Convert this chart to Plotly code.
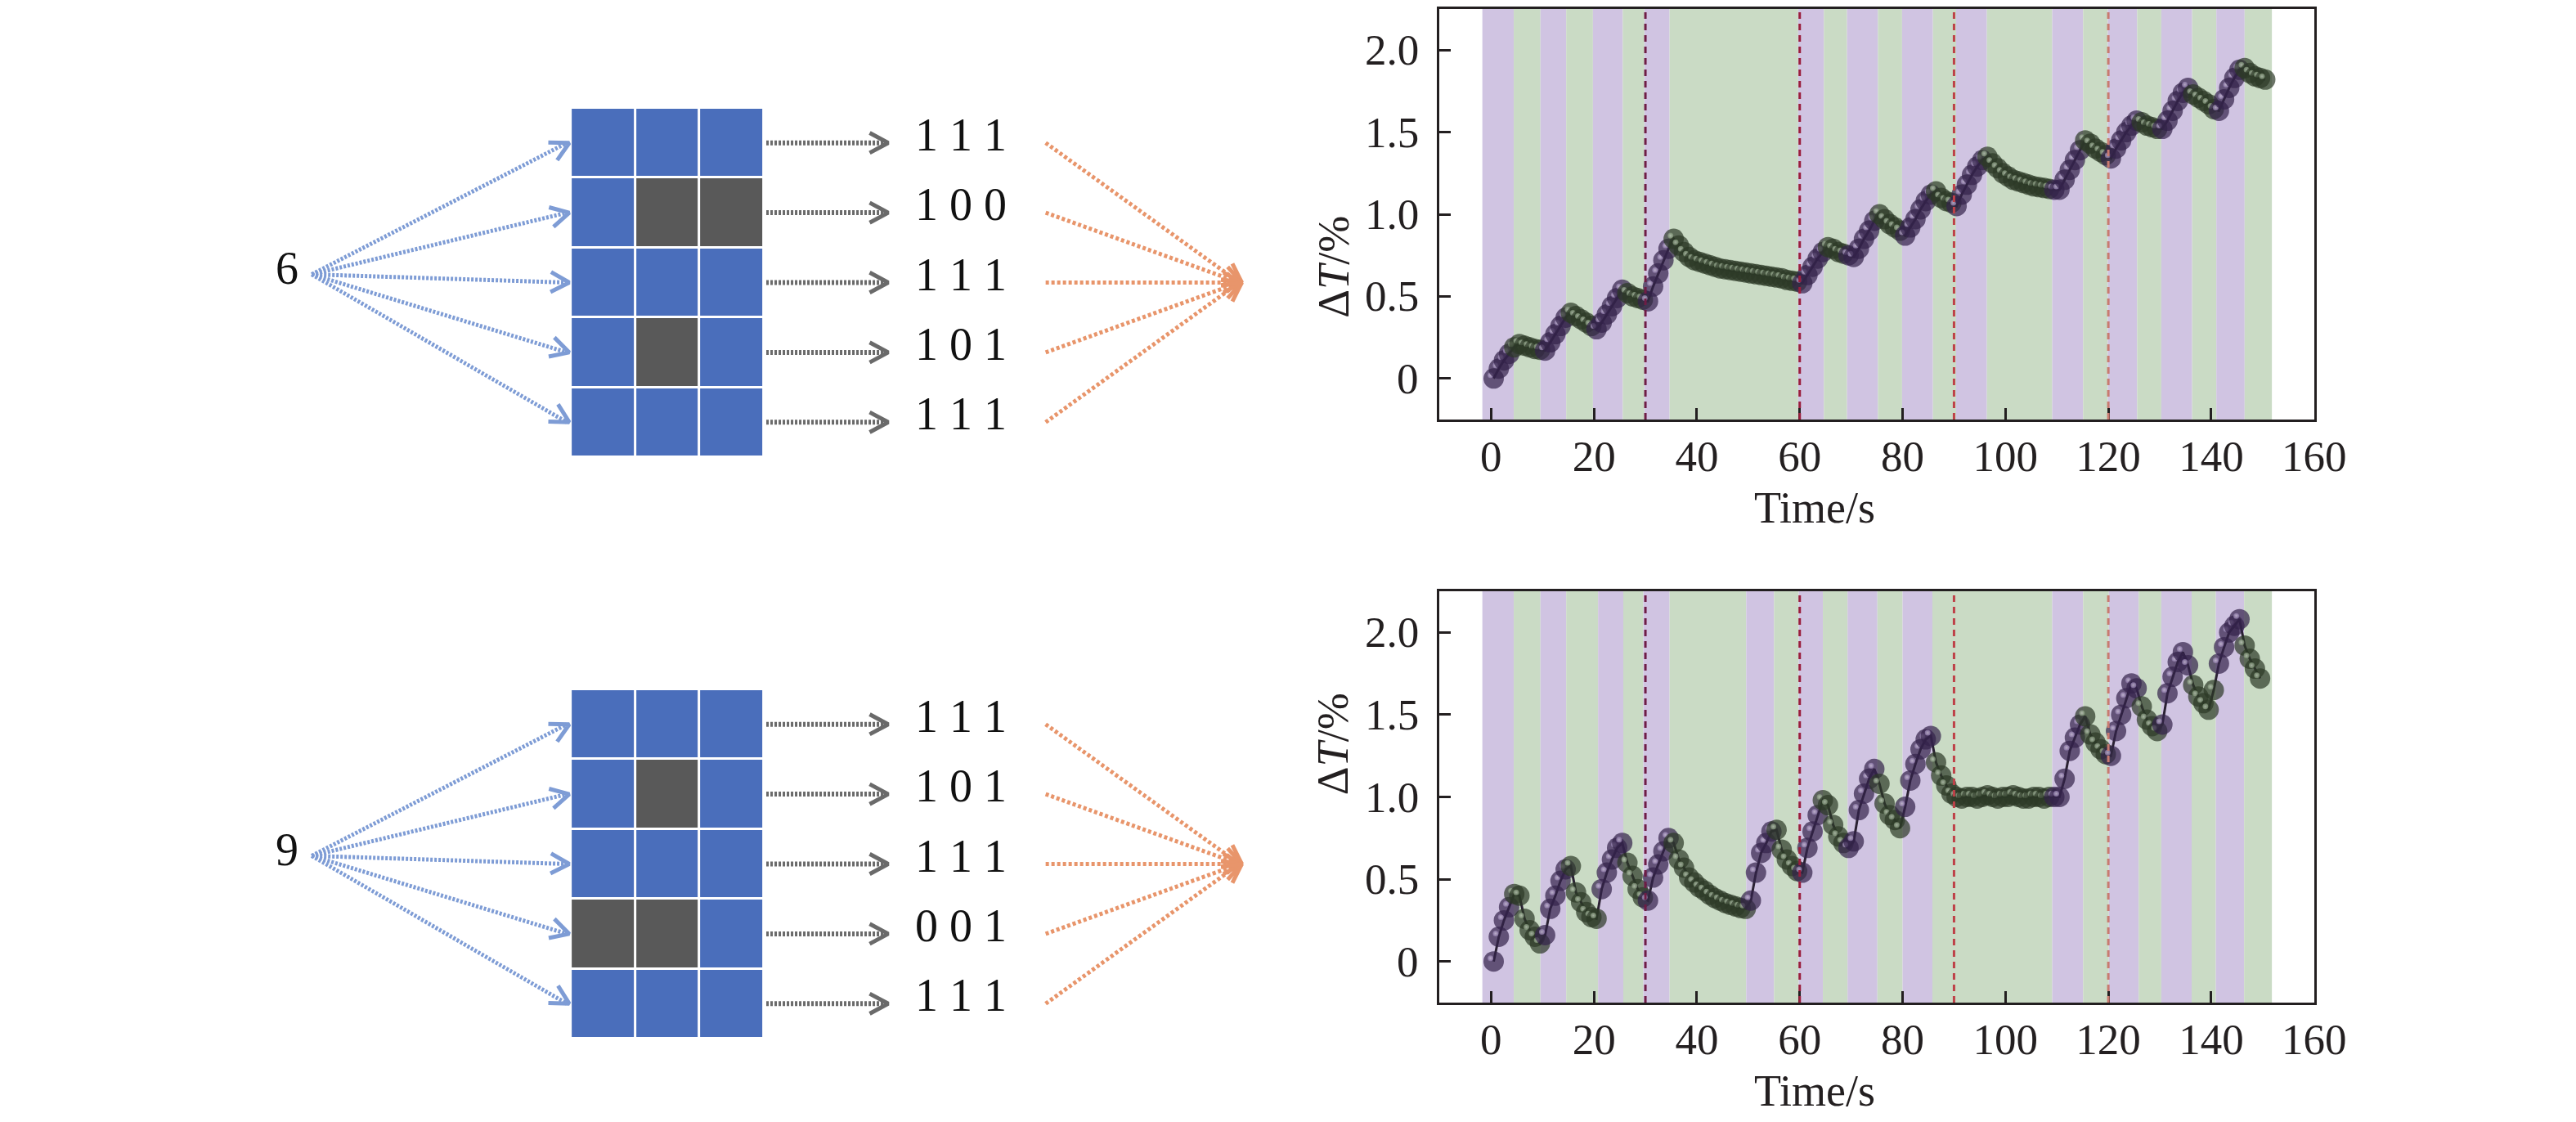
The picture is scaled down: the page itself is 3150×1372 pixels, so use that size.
import numpy as np
import plotly.graph_objects as go

# %% digits shown as 3x5 grids, one row of bits per line
digit_top = "6"
rows_top = ["111", "100", "111", "101", "111"]
digit_bot = "9"
rows_bot = ["111", "101", "111", "001", "111"]

# light on / light off stripes (s), alternating, first one is "on"
edges_top = [-1.7, 4.4, 9.6, 14.6, 19.8, 25.6, 29.8, 34.7, 59.7, 64.7, 69.2, 75.2,
             79.9, 85.9, 90.4, 96.4, 109.1, 115.1, 119.9, 125.6, 130.3, 136.3,
             141.0, 146.5, 151.8]
edges_bot = [-1.7, 4.4, 9.6, 14.6, 20.8, 25.7, 29.6, 34.7, 49.6, 55.0, 59.8, 64.5,
             69.3, 75.1, 80.0, 85.8, 109.1, 115.1, 120.1, 125.9, 130.3, 136.2,
             140.9, 146.4, 151.8]

# dT (%) one sample per second
dT_top = [0.00, 0.06, 0.11, 0.15, 0.19, 0.21, 0.20, 0.19, 0.18, 0.175,
          0.17, 0.22, 0.27, 0.32, 0.37, 0.40, 0.38, 0.36, 0.34, 0.32,
          0.30, 0.34, 0.39, 0.44, 0.49, 0.54, 0.52, 0.50, 0.49, 0.48,
          0.47, 0.56, 0.64, 0.72, 0.79, 0.85, 0.81, 0.77, 0.74, 0.72,
          0.71, 0.70, 0.69, 0.68, 0.67, 0.665, 0.66, 0.655, 0.65, 0.645,
          0.64, 0.635, 0.63, 0.625, 0.62, 0.615, 0.61, 0.60, 0.595, 0.59,
          0.58, 0.63, 0.68, 0.73, 0.77, 0.80, 0.79, 0.77, 0.76, 0.75,
          0.74, 0.79, 0.85, 0.90, 0.96, 1.00, 0.97, 0.94, 0.92, 0.90,
          0.87, 0.92, 0.97, 1.03, 1.08, 1.12, 1.14, 1.10, 1.08, 1.07,
          1.05, 1.12, 1.18, 1.24, 1.29, 1.33, 1.35, 1.31, 1.28, 1.25,
          1.23, 1.21, 1.20, 1.19, 1.18, 1.17, 1.165, 1.16, 1.155, 1.15,
          1.15, 1.21, 1.27, 1.33, 1.39, 1.45, 1.43, 1.40, 1.38, 1.36,
          1.34, 1.40, 1.45, 1.50, 1.54, 1.57, 1.56, 1.54, 1.53, 1.52,
          1.52, 1.57, 1.63, 1.69, 1.74, 1.77, 1.73, 1.71, 1.69, 1.67,
          1.64, 1.63, 1.70, 1.77, 1.83, 1.88, 1.89, 1.86, 1.84, 1.83,
          1.82]
dT_bot = [0.00, 0.15, 0.25, 0.33, 0.41, 0.40, 0.26, 0.19, 0.15, 0.11,
          0.16, 0.32, 0.40, 0.49, 0.56, 0.58, 0.42, 0.36, 0.30, 0.27,
          0.26, 0.44, 0.54, 0.62, 0.69, 0.72, 0.60, 0.52, 0.44, 0.39,
          0.37, 0.51, 0.59, 0.67, 0.75, 0.72, 0.62, 0.57, 0.51, 0.48,
          0.45, 0.43, 0.405, 0.385, 0.37, 0.355, 0.345, 0.335, 0.325, 0.32,
          0.37, 0.54, 0.66, 0.72, 0.79, 0.80, 0.68, 0.62, 0.58, 0.55,
          0.54, 0.69, 0.79, 0.89, 0.98, 0.95, 0.83, 0.76, 0.72, 0.69,
          0.73, 0.92, 1.02, 1.11, 1.17, 1.08, 0.96, 0.89, 0.86, 0.81,
          0.94, 1.10, 1.20, 1.29, 1.35, 1.37, 1.21, 1.13, 1.07, 1.02,
          1.00, 0.99, 1.00, 1.00, 0.99, 1.00, 1.01, 1.00, 0.99, 1.00,
          1.00, 1.01, 1.00, 0.99, 0.99, 1.00, 1.00, 0.99, 1.00, 1.00,
          1.00, 1.11, 1.28, 1.36, 1.44, 1.49, 1.38, 1.33, 1.29, 1.26,
          1.25, 1.40, 1.50, 1.60, 1.69, 1.66, 1.55, 1.47, 1.43, 1.40,
          1.44, 1.63, 1.73, 1.82, 1.88, 1.80, 1.68, 1.61, 1.57, 1.53,
          1.65, 1.81, 1.91, 2.00, 2.04, 2.08, 1.92, 1.84, 1.78, 1.72]

t_top = [i + 0.5 for i in range(len(dT_top))]
t_bot = [i + 0.5 for i in range(len(dT_bot))]

x_ticks = [0, 20, 40, 60, 80, 100, 120, 140, 160]
y_ticks = [0, 0.5, 1.0, 1.5, 2.0]
y_ticktext = ["0", "0.5", "1.0", "1.5", "2.0"]
mark_times = [30, 60, 90, 120]
mark_colors = ["#6E1D45", "#9A1E3C", "#BE4148", "#C97A70"]

FONT = "Liberation Serif"
W, H = 3150, 1372
ON_BG, OFF_BG = "#D0C4E2", "#CADBC5"


def is_on(t, edges):
    for i in range(len(edges) - 1):
        if edges[i] <= t < edges[i + 1]:
            return i % 2 == 0
    return False


def spheres(t, v, edges, xa, ya):
    # body + small highlight per sample, interleaved so later balls cover earlier highlights
    dx, dy = -4 / 6.37, 4 / 201
    xs, ys, sz, col, gcol, gtyp = [], [], [], [], [], []
    for ti, vi in zip(t, v):
        on = is_on(ti, edges)
        xs += [ti, ti + dx]
        ys += [vi, vi + dy]
        sz += [25, 7]
        col += ["#33224A" if on else "#2C3926", "#9580B2" if on else "#84997B"]
        gcol += ["#33224A" if on else "#2C3926", "#E2D8EE" if on else "#D3DFCD"]
        gtyp += ["none", "radial"]
    line = go.Scatter(x=t, y=v, mode="lines", line=dict(color="#2B2233", width=3),
                      xaxis=xa, yaxis=ya, showlegend=False, hoverinfo="skip")
    balls = go.Scatter(x=xs, y=ys, mode="markers", xaxis=xa, yaxis=ya, showlegend=False,
                       marker=dict(size=sz, color=col, line=dict(width=0),
                                   gradient=dict(type=gtyp, color=gcol)))
    return [line, balls]


def chevron(x0, y0, x1, y1, length=26, ang=28):
    u = np.array([x0 - x1, y0 - y1], dtype=float)
    u /= np.hypot(*u)
    out_x, out_y = [], []
    for s in (1, -1):
        a = np.radians(ang) * s
        r = np.array([u[0] * np.cos(a) - u[1] * np.sin(a), u[0] * np.sin(a) + u[1] * np.cos(a)])
        out_x.append(x1 + length * r[0])
        out_y.append(y1 + length * r[1])
    return [out_x[0], x1, out_x[1], None], [out_y[0], y1, out_y[1], None]


fig = go.Figure()
shapes, annos = [], []

# %% left: digit -> grid -> bit rows
CELL_W, CELL_H = 79.7, 85.4
GRID_X0 = 699


def digit_panel(digit, rows, grid_y0):
    z = [[int(b) for b in r] for r in rows]
    centers = [grid_y0 + CELL_H * (i + 0.5) for i in range(len(rows))]
    mid = grid_y0 + CELL_H * len(rows) / 2
    fig.add_trace(go.Heatmap(z=z, x0=GRID_X0 + CELL_W / 2, dx=CELL_W,
                             y0=grid_y0 + CELL_H / 2, dy=CELL_H, xgap=3, ygap=3,
                             colorscale=[[0, "#595959"], [1, "#4A6EBB"]], zmin=0, zmax=1,
                             showscale=False, xaxis="x3", yaxis="y3", hoverinfo="skip"))
    groups = [
        ("#7E9CD5", [(378, mid - 10, 697, c) for c in centers], "3px,2px", 5),
        ("#6A6A6A", [(941, c, 1092, c) for c in centers], "3px,2px", 6),
        ("#E8956B", [(1287, c, 1530, mid) for c in centers], "4px,3px", 5),
    ]
    for color, segs, dash, wd in groups:
        lx, ly, hx, hy = [], [], [], []
        for x0, y0, x1, y1 in segs:
            lx += [x0, x1 - 3, None]
            ly += [y0, y1, None]
            cx, cy = chevron(x0, y0, x1, y1)
            hx += cx
            hy += cy
        fig.add_trace(go.Scatter(x=lx, y=ly, mode="lines", xaxis="x3", yaxis="y3",
                                 line=dict(color=color, width=wd, dash=dash),
                                 showlegend=False, hoverinfo="skip"))
        fig.add_trace(go.Scatter(x=hx, y=hy, mode="lines", xaxis="x3", yaxis="y3",
                                 line=dict(color=color, width=5),
                                 showlegend=False, hoverinfo="skip"))
    annos.append(dict(x=347, y=mid - 18, xref="x3", yref="y3", text=digit, showarrow=False,
                      font=dict(family=FONT, size=56, color="#111111")))
    for r, c in zip(rows, centers):
        annos.append(dict(x=1182, y=c - 10, xref="x3", yref="y3", text=" ".join(r),
                          showarrow=False, font=dict(family=FONT, size=56, color="#111111")))


digit_panel(digit_top, rows_top, 124)
digit_panel(digit_bot, rows_bot, 835)

# %% right: dT curves
dom_x = [1775 / W, 2858 / W]
dom_top = [1 - 505 / H, 1 - 3 / H]
dom_bot = [1 - 1218 / H, 1 - 715 / H]
plot_w = dom_x[1] * W - dom_x[0] * W

for xa, ya, t, v, edges in [("x", "y", t_top, dT_top, edges_top),
                            ("x2", "y2", t_bot, dT_bot, edges_bot)]:
    for i in range(len(edges) - 1):
        shapes.append(dict(type="rect", xref=xa, yref=ya + " domain", x0=edges[i], x1=edges[i + 1],
                           y0=0, y1=1, fillcolor=ON_BG if i % 2 == 0 else OFF_BG,
                           line=dict(width=0), layer="below"))
    for mt, mc in zip(mark_times, mark_colors):
        shapes.append(dict(type="line", xref=xa, yref=ya + " domain", x0=mt, x1=mt, y0=0, y1=1,
                           line=dict(color=mc, width=3, dash="8px,6px"), layer="above"))
    for tr in spheres(t, v, edges, xa, ya):
        fig.add_trace(tr)
    # y tick labels sit closer to the axis than plotly puts them
    for yv, yt in zip(y_ticks, y_ticktext):
        annos.append(dict(x=-24 / plot_w, y=yv, xref=xa + " domain", yref=ya, text=yt,
                          showarrow=False, xanchor="right", yanchor="middle",
                          font=dict(family=FONT, size=53, color="#231F20")))

ax_common = dict(showline=True, linecolor="#231F20", linewidth=3, mirror=True,
                 ticks="inside", ticklen=14, tickwidth=3, tickcolor="#231F20",
                 showgrid=False, zeroline=False,
                 tickfont=dict(family=FONT, size=53, color="#231F20"))
xax = dict(ax_common, range=[-10, 160], tickvals=x_ticks, ticklabelstandoff=-4)
yax = dict(ax_common, range=[-0.25, 2.25], tickvals=y_ticks, showticklabels=False)

for dom in (dom_top, dom_bot):
    mid_y = (dom[0] + dom[1]) / 2
    annos.append(dict(x=(dom_x[0] + dom_x[1]) / 2, y=dom[0] - 108 / H, xref="paper", yref="paper",
                      text="Time/s", showarrow=False, yanchor="middle",
                      font=dict(family=FONT, size=54, color="#231F20")))
    annos.append(dict(x=1643 / W, y=mid_y, xref="paper", yref="paper", text="Δ<i>T</i>/%",
                      textangle=-90, showarrow=False,
                      font=dict(family=FONT, size=54, color="#231F20")))

fig.update_layout(
    width=W, height=H,
    margin=dict(l=0, r=0, t=0, b=0),
    paper_bgcolor="white", plot_bgcolor="white",
    xaxis=dict(xax, domain=dom_x, anchor="y"),
    yaxis=dict(yax, domain=dom_top, anchor="x"),
    xaxis2=dict(xax, domain=dom_x, anchor="y2"),
    yaxis2=dict(yax, domain=dom_bot, anchor="x2"),
    xaxis3=dict(domain=[0, 0.55], range=[0, 0.55 * W], visible=False, anchor="y3"),
    yaxis3=dict(domain=[0, 1], range=[H, 0], visible=False, anchor="x3"),
    shapes=shapes, annotations=annos,
)

fig.write_html("out.html")
